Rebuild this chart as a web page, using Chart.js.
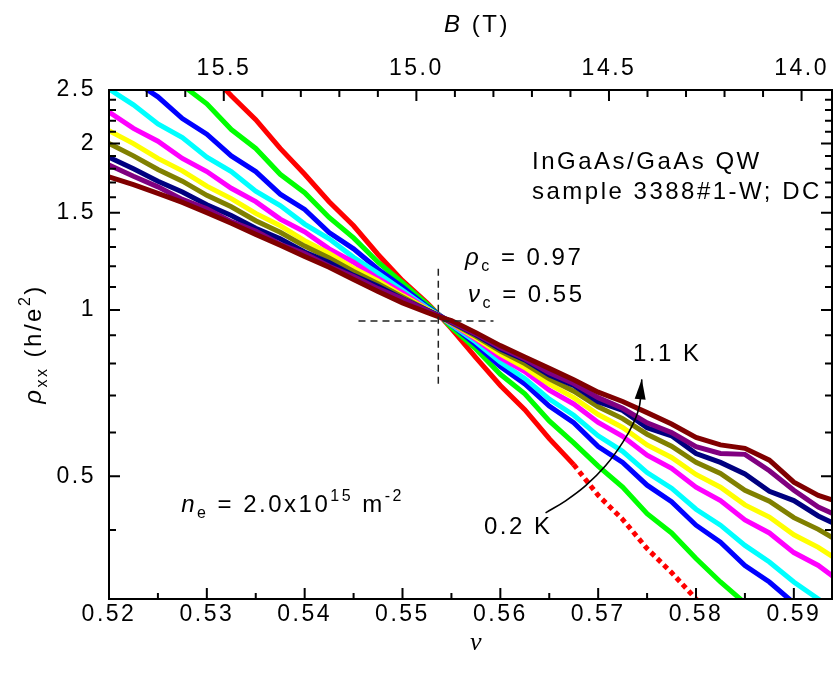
<!DOCTYPE html>
<html>
<head>
<meta charset="utf-8">
<script src="https://cdn.jsdelivr.net/npm/chart.js@4.4.1/dist/chart.umd.min.js"></script>
<style>
  html, body { margin: 0; padding: 0; background: #fff; }
  #wrap { width: 835px; height: 678px; }
</style>
</head>
<body>
<div id="wrap"><canvas id="myChart" width="835" height="678"></canvas></div>
<script>
// filling factor grid shared by every curve
const nu = [0.52, 0.5225, 0.525, 0.5275, 0.53, 0.5325, 0.535, 0.5375, 0.54, 0.5425, 0.545, 0.5475, 0.55, 0.5525,
  0.554, 0.555, 0.5575, 0.56, 0.5625, 0.565, 0.5675, 0.57, 0.5725, 0.575, 0.5775, 0.58, 0.5825, 0.585, 0.5875, 0.59, 0.5925, 0.595];

// rho_xx (h/e^2), one array per temperature
const rho02 = [4.19, 3.76, 3.38, 3.03, 2.72, 2.44, 2.21, 1.96, 1.76, 1.57, 1.42, 1.26, 1.13, 1.03,
  0.968, 0.925, 0.82, 0.73, 0.66, 0.585, 0.525, 0.462, 0.418, 0.37, 0.335, 0.30, 0.272, 0.245, 0.22, 0.2, 0.18, 0.165];
const rho03 = [3.39, 3.08, 2.83, 2.55, 2.36, 2.12, 1.96, 1.76, 1.63, 1.47, 1.35, 1.22, 1.12, 1.025,
  0.97, 0.93, 0.85, 0.765, 0.705, 0.63, 0.575, 0.522, 0.478, 0.428, 0.395, 0.355, 0.322, 0.295, 0.267, 0.243, 0.221, 0.2];
const rho04 = [2.83, 2.6, 2.43, 2.22, 2.08, 1.9, 1.78, 1.62, 1.52, 1.38, 1.29, 1.185, 1.1, 1.015,
  0.972, 0.94, 0.865, 0.79, 0.735, 0.67, 0.625, 0.566, 0.53, 0.482, 0.45, 0.408, 0.38, 0.345, 0.322, 0.295, 0.272, 0.251];
const rho05 = [2.51, 2.35, 2.17, 2.05, 1.89, 1.78, 1.64, 1.545, 1.43, 1.345, 1.245, 1.165, 1.085, 1.01,
  0.97, 0.94, 0.875, 0.805, 0.752, 0.69, 0.645, 0.592, 0.555, 0.508, 0.476, 0.436, 0.408, 0.375, 0.35, 0.322, 0.3, 0.278];
const rho06 = [2.28, 2.13, 2.02, 1.88, 1.78, 1.66, 1.57, 1.46, 1.385, 1.29, 1.22, 1.14, 1.075, 1.005,
  0.968, 0.945, 0.885, 0.82, 0.774, 0.716, 0.676, 0.626, 0.591, 0.546, 0.517, 0.478, 0.452, 0.417, 0.395, 0.364, 0.345, 0.32];
const rho07 = [2.11, 2.0, 1.88, 1.785, 1.675, 1.59, 1.495, 1.42, 1.335, 1.265, 1.19, 1.128, 1.062, 1.004,
  0.971, 0.947, 0.89, 0.832, 0.787, 0.734, 0.694, 0.647, 0.613, 0.57, 0.541, 0.504, 0.478, 0.444, 0.422, 0.392, 0.372, 0.348];
const rho08 = [2.0, 1.9, 1.795, 1.71, 1.612, 1.537, 1.45, 1.382, 1.305, 1.242, 1.174, 1.116, 1.056, 1.0,
  0.969, 0.948, 0.896, 0.843, 0.8, 0.751, 0.713, 0.668, 0.636, 0.596, 0.567, 0.53, 0.506, 0.472, 0.451, 0.421, 0.401, 0.378];
const rho09 = [1.89, 1.8, 1.71, 1.635, 1.55, 1.482, 1.405, 1.345, 1.273, 1.218, 1.155, 1.104, 1.048, 1.0,
  0.972, 0.95, 0.902, 0.85, 0.812, 0.763, 0.73, 0.682, 0.658, 0.612, 0.592, 0.55, 0.53, 0.505, 0.47, 0.452, 0.424, 0.404];
const rho10 = [1.83, 1.745, 1.67, 1.585, 1.525, 1.445, 1.39, 1.315, 1.265, 1.2, 1.15, 1.093, 1.047, 0.998,
  0.97, 0.952, 0.905, 0.855, 0.816, 0.77, 0.736, 0.694, 0.664, 0.625, 0.6, 0.566, 0.55, 0.548, 0.512, 0.472, 0.44, 0.42];
const rho11 = [1.74, 1.685, 1.625, 1.565, 1.5, 1.435, 1.37, 1.31, 1.25, 1.195, 1.135, 1.08, 1.03, 0.99,
  0.968, 0.957, 0.91, 0.862, 0.822, 0.784, 0.748, 0.71, 0.683, 0.652, 0.622, 0.588, 0.57, 0.562, 0.535, 0.488, 0.462, 0.447];

const temps = ['0.2 K', '0.3 K', '0.4 K', '0.5 K', '0.6 K', '0.7 K', '0.8 K', '0.9 K', '1.0 K', '1.1 K'];
const series = [rho02, rho03, rho04, rho05, rho06, rho07, rho08, rho09, rho10, rho11];
const colors = ['#ff0000', '#00ff00', '#0000ff', '#00ffff', '#ff00ff', '#ffff00', '#808000', '#000080', '#800080', '#800000'];

// axes
const nuTicks = [0.52, 0.53, 0.54, 0.55, 0.56, 0.57, 0.58, 0.59];
const rhoTicks = [0.5, 1, 1.5, 2, 2.5];
const bTicks = [14.0, 14.5, 15.0, 15.5];

// critical point guides and the temperature arrow
const crossV = [{x: 0.55366, y: 1.187}, {x: 0.55366, y: 0.734}];
const crossH = [{x: 0.5455, y: 0.955}, {x: 0.5593, y: 0.955}];
const arrowNu = [0.56462, 0.56667, 0.56872, 0.57077, 0.57251, 0.57364, 0.57425, 0.57446];
const arrowRho = [0.4295, 0.4516, 0.481, 0.523, 0.576, 0.626, 0.675, 0.749];

const FONT = 'Liberation Sans, Arial, sans-serif';

function richText(ctx, parts, x, y, align) {
  let w = 0;
  parts.forEach(p => { ctx.font = p.font; p.w = ctx.measureText(p.t).width; w += p.w; });
  let cx = align === 'center' ? x - w / 2 : align === 'right' ? x - w : x;
  parts.forEach(p => {
    ctx.font = p.font;
    ctx.fillText(p.t, cx, y + (p.dy || 0));
    cx += p.w;
  });
}

const framePlugin = {
  id: 'frame',
  beforeDraw(chart) {
    chart.ctx.letterSpacing = '2.5px';
  },
  afterDraw(chart) {
    const ctx = chart.ctx;
    const a = chart.chartArea;
    const xs = chart.scales.x, ys = chart.scales.y, bs = chart.scales.x2;
    ctx.save();
    ctx.strokeStyle = '#000';
    ctx.fillStyle = '#000';

    // box
    ctx.lineWidth = 2;
    ctx.strokeRect(a.left, a.top, a.right - a.left, a.bottom - a.top);

    // inward ticks
    ctx.beginPath();
    for (let k = 104; k * 0.005 <= xs.max + 1e-9; k++) {
      const px = xs.getPixelForValue(k * 0.005);
      const len = k % 2 === 0 ? 11 : 6;
      ctx.moveTo(px, a.bottom); ctx.lineTo(px, a.bottom - len);
    }
    for (let k = Math.ceil(bs.min * 10); k <= Math.floor(bs.max * 10); k++) {
      const px = bs.getPixelForValue(k / 10);
      const len = k % 5 === 0 ? 11 : 7;
      ctx.moveTo(px, a.top); ctx.lineTo(px, a.top + len);
    }
    for (let k = 3; k <= 25; k++) {
      const py = ys.getPixelForValue(k / 10);
      const len = k % 5 === 0 ? 11 : 7;
      ctx.moveTo(a.left, py); ctx.lineTo(a.left + len, py);
      ctx.moveTo(a.right, py); ctx.lineTo(a.right - len, py);
    }
    ctx.stroke();

    // arrow head
    const pts = chart.getDatasetMeta(series.length + 2).data;
    const tip = pts[pts.length - 1], prev = pts[pts.length - 2];
    const ang = Math.atan2(tip.y - prev.y, tip.x - prev.x);
    ctx.beginPath();
    ctx.moveTo(tip.x, tip.y);
    ctx.lineTo(tip.x - 20 * Math.cos(ang) + 5.5 * Math.sin(ang), tip.y - 20 * Math.sin(ang) - 5.5 * Math.cos(ang));
    ctx.lineTo(tip.x - 20 * Math.cos(ang) - 5.5 * Math.sin(ang), tip.y - 20 * Math.sin(ang) + 5.5 * Math.cos(ang));
    ctx.closePath();
    ctx.fill();

    // labels
    const n24 = '24px ' + FONT, i24 = 'italic 24px ' + FONT, s16 = '16px ' + FONT;
    ctx.textBaseline = 'alphabetic';
    richText(ctx, [{t: 'InGaAs/GaAs QW', font: n24}], 532, 169, 'left');
    richText(ctx, [{t: 'sample 3388#1-W; DC', font: n24}], 532, 199, 'left');
    richText(ctx, [{t: 'ρ', font: i24}, {t: 'c', font: s16, dy: 6}, {t: ' = 0.97', font: n24}], 465, 265, 'left');
    richText(ctx, [{t: 'ν', font: i24}, {t: 'c', font: s16, dy: 6}, {t: ' = 0.55', font: n24}], 468, 302, 'left');
    richText(ctx, [{t: '1.1 K', font: n24}], 633, 361, 'left');
    richText(ctx, [{t: '0.2 K', font: n24}], 484, 534, 'left');
    richText(ctx, [{t: 'n', font: i24}, {t: 'e', font: s16, dy: 6}, {t: ' = 2.0x10', font: n24},
      {t: '15', font: s16, dy: -11}, {t: ' m', font: n24}, {t: '-2', font: s16, dy: -11}], 404, 512, 'right');

    // axis titles
    richText(ctx, [{t: 'B', font: 'italic 24px ' + FONT}, {t: ' (T)', font: '24px ' + FONT}], 477, 32, 'center');
    richText(ctx, [{t: 'ν', font: 'italic 26px Liberation Serif, serif'}], 477, 650, 'center');
    ctx.translate(41, 344);
    ctx.rotate(-Math.PI / 2);
    richText(ctx, [{t: 'ρ', font: 'italic 24px ' + FONT}, {t: 'xx', font: '16px ' + FONT, dy: 6},
      {t: ' (h/e', font: '24px ' + FONT}, {t: '2', font: '16px ' + FONT, dy: -11}, {t: ')', font: '24px ' + FONT}], 0, 0, 'center');
    ctx.restore();
  }
};

const datasets = series.map((vals, i) => ({
  label: temps[i],
  data: nu.map((v, j) => ({x: v, y: vals[j]})),
  borderColor: colors[i],
  borderWidth: 5,
  borderCapStyle: 'butt',
  pointRadius: 0,
  tension: 0,
  clip: 0,
  order: series.length - i + 1,
  // the coldest trace breaks up into loose points at low resistance
  segment: i === 0 ? { borderDash: c => c.p0.parsed.x >= 0.5675 ? [5, 4] : undefined } : undefined
}));

datasets.push({
  label: 'crit-v', data: crossV, borderColor: '#222', borderWidth: 1.5, borderDash: [7, 5],
  pointRadius: 0, order: 0, clip: false
});
datasets.push({
  label: 'crit-h', data: crossH, borderColor: '#222', borderWidth: 1.5, borderDash: [7, 5],
  pointRadius: 0, order: 0, clip: false
});
datasets.push({
  label: 'arrow', data: arrowNu.map((v, j) => ({x: v, y: arrowRho[j]})), borderColor: '#000', borderWidth: 1.6,
  pointRadius: 0, tension: 0.4, order: 0, clip: false
});

const tickFont = {family: FONT, size: 23};

new Chart(document.getElementById('myChart'), {
  type: 'line',
  data: { datasets: datasets },
  plugins: [framePlugin],
  options: {
    responsive: false,
    animation: false,
    devicePixelRatio: 1,
    layout: { padding: { right: 3 } },
    plugins: { legend: { display: false }, tooltip: { enabled: false } },
    scales: {
      x: {
        type: 'linear', position: 'bottom', min: 0.52, max: 0.5939,
        grid: { display: false, drawTicks: false }, border: { display: false },
        afterBuildTicks: s => { s.ticks = nuTicks.map(v => ({value: v})); },
        ticks: { font: tickFont, color: '#000', padding: 2, maxRotation: 0, callback: v => v.toFixed(2) },
        afterFit: s => { s.height = 79; }
      },
      x2: {
        type: 'linear', position: 'top', reverse: true, min: 13.921, max: 15.798,
        grid: { display: false, drawTicks: false }, border: { display: false },
        afterBuildTicks: s => { s.ticks = bTicks.map(v => ({value: v})); },
        ticks: { font: tickFont, color: '#000', padding: 8, maxRotation: 0, callback: v => v.toFixed(1) },
        afterFit: s => { s.height = 90; }
      },
      y: {
        type: 'logarithmic', position: 'left', min: 0.3, max: 2.5,
        grid: { display: false, drawTicks: false }, border: { display: false },
        afterBuildTicks: s => { s.ticks = rhoTicks.map(v => ({value: v})); },
        ticks: { font: tickFont, color: '#000', padding: 13, callback: v => String(v) },
        afterFit: s => { s.width = 109; }
      }
    }
  }
});
</script>
</body>
</html>
